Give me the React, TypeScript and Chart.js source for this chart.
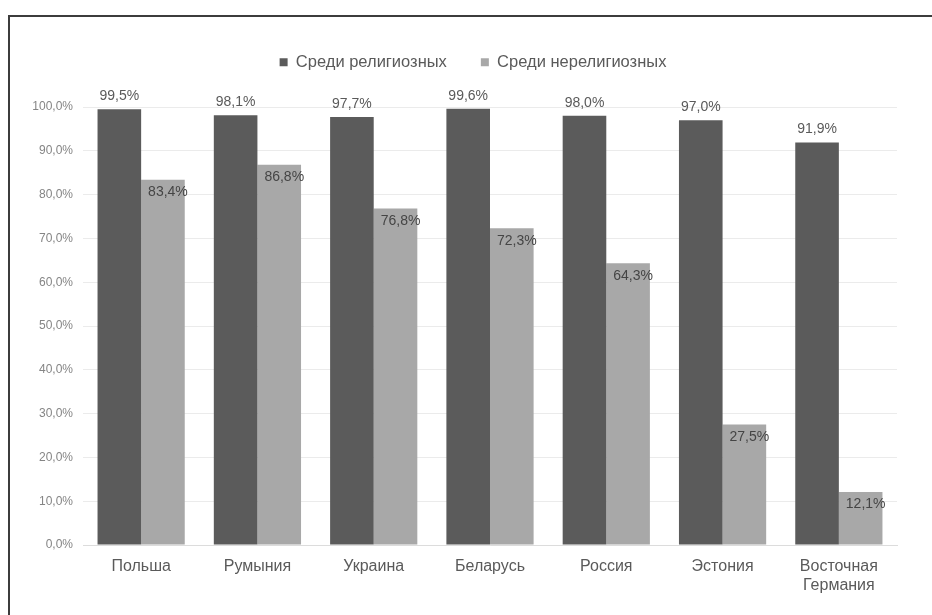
import { useEffect, useRef } from 'react';
import { Chart, registerables } from 'chart.js';

Chart.register(...registerables);

const countries = ['Польша', 'Румыния', 'Украина', 'Беларусь', 'Россия', 'Эстония', ['Восточная', 'Германия']];
const religious = [99.5, 98.1, 97.7, 99.6, 98.0, 97.0, 91.9];
const nonReligious = [83.4, 86.8, 76.8, 72.3, 64.3, 27.5, 12.1];
const seriesNames = ['Среди религиозных', 'Среди нерелигиозных'];

const FONT = '"Liberation Sans", Arial, sans-serif';

const fmt = (v: number) => v.toFixed(1).replace('.', ',') + '%';

// puts the value on each bar: above the dark ones, inside the top of the light ones
const barLabels = {
  id: 'barLabels',
  afterDatasetsDraw(chart: any) {
    const { ctx } = chart;
    ctx.save();
    ctx.font = `14px ${FONT}`;
    ctx.textAlign = 'center';
    ctx.textBaseline = 'middle';
    chart.data.datasets.forEach((ds: any, i: number) => {
      const meta = chart.getDatasetMeta(i);
      meta.data.forEach((bar: any, j: number) => {
        const v = ds.data[j] as number;
        if (i === 0) {
          ctx.fillStyle = '#5a5a5a';
          ctx.fillText(fmt(v), bar.x, bar.y - 13);
        } else {
          ctx.fillStyle = '#454545';
          ctx.fillText(fmt(v), bar.x + 5, bar.y + 12.5);
        }
      });
    });
    ctx.restore();
  },
};

// fixed legend height, and the legend sits a bit left of the plot centre
const legendPlace = {
  id: 'legendPlace',
  beforeInit(chart: any) {
    const fit = chart.legend.fit;
    chart.legend.fit = function () {
      fit.bind(chart.legend)();
      this.height = 87;
    };
  },
  afterLayout(chart: any) {
    chart.legend.left -= 17;
    chart.legend.right -= 17;
  },
};

export default function App() {
  const canvasRef = useRef<HTMLCanvasElement>(null);
  const chartRef = useRef<Chart | null>(null);

  useEffect(() => {
    const ctx = canvasRef.current?.getContext('2d');
    if (!ctx) return;
    if (chartRef.current) chartRef.current.destroy();

    chartRef.current = new Chart(ctx, {
      type: 'bar',
      data: {
        labels: countries,
        datasets: [
          { label: seriesNames[0], data: religious, backgroundColor: '#5b5b5b', borderWidth: 0 },
          { label: seriesNames[1], data: nonReligious, backgroundColor: '#a8a8a8', borderWidth: 0 },
        ],
      },
      options: {
        responsive: false,
        animation: false,
        layout: { padding: { top: 20, left: 0, right: 35, bottom: 0 } },
        datasets: { bar: { categoryPercentage: 0.75, barPercentage: 1.0 } },
        plugins: {
          legend: {
            position: 'top',
            fullSize: false,
            labels: {
              boxWidth: 8,
              boxHeight: 8,
              padding: 34,
              color: '#5a5a5a',
              font: { family: FONT, size: 16.5 },
            },
          },
          tooltip: { enabled: false },
        },
        scales: {
          x: {
            grid: { display: false, drawTicks: false },
            border: { display: true, color: '#dcdcdc', width: 1 },
            ticks: { color: '#5a5a5a', padding: 12, font: { family: FONT, size: 16 } },
            afterFit: (scale: any) => {
              scale.height = 70;
            },
          },
          y: {
            min: 0,
            max: 100,
            grid: { color: '#ebebeb', drawTicks: false },
            border: { display: false },
            ticks: {
              stepSize: 10,
              padding: 10,
              color: '#858585',
              font: { family: FONT, size: 12 },
              callback: (v: any) => fmt(Number(v)),
            },
            afterFit: (scale: any) => {
              scale.width = 83;
            },
          },
        },
      },
      plugins: [barLabels, legendPlace],
    });

    return () => {
      if (chartRef.current) {
        chartRef.current.destroy();
        chartRef.current = null;
      }
    };
  }, []);

  return (
    <div style={{ position: 'fixed', top: 0, left: 0, width: 932, height: 615, background: '#fff', overflow: 'hidden' }}>
      <canvas ref={canvasRef} width={932} height={615} style={{ position: 'absolute', top: 0, left: 0 }} />
      <div
        style={{
          position: 'absolute',
          top: 15,
          left: 8,
          width: 940,
          height: 640,
          borderTop: '2px solid #3c3c3c',
          borderLeft: '2px solid #3c3c3c',
          pointerEvents: 'none',
        }}
      />
    </div>
  );
}
